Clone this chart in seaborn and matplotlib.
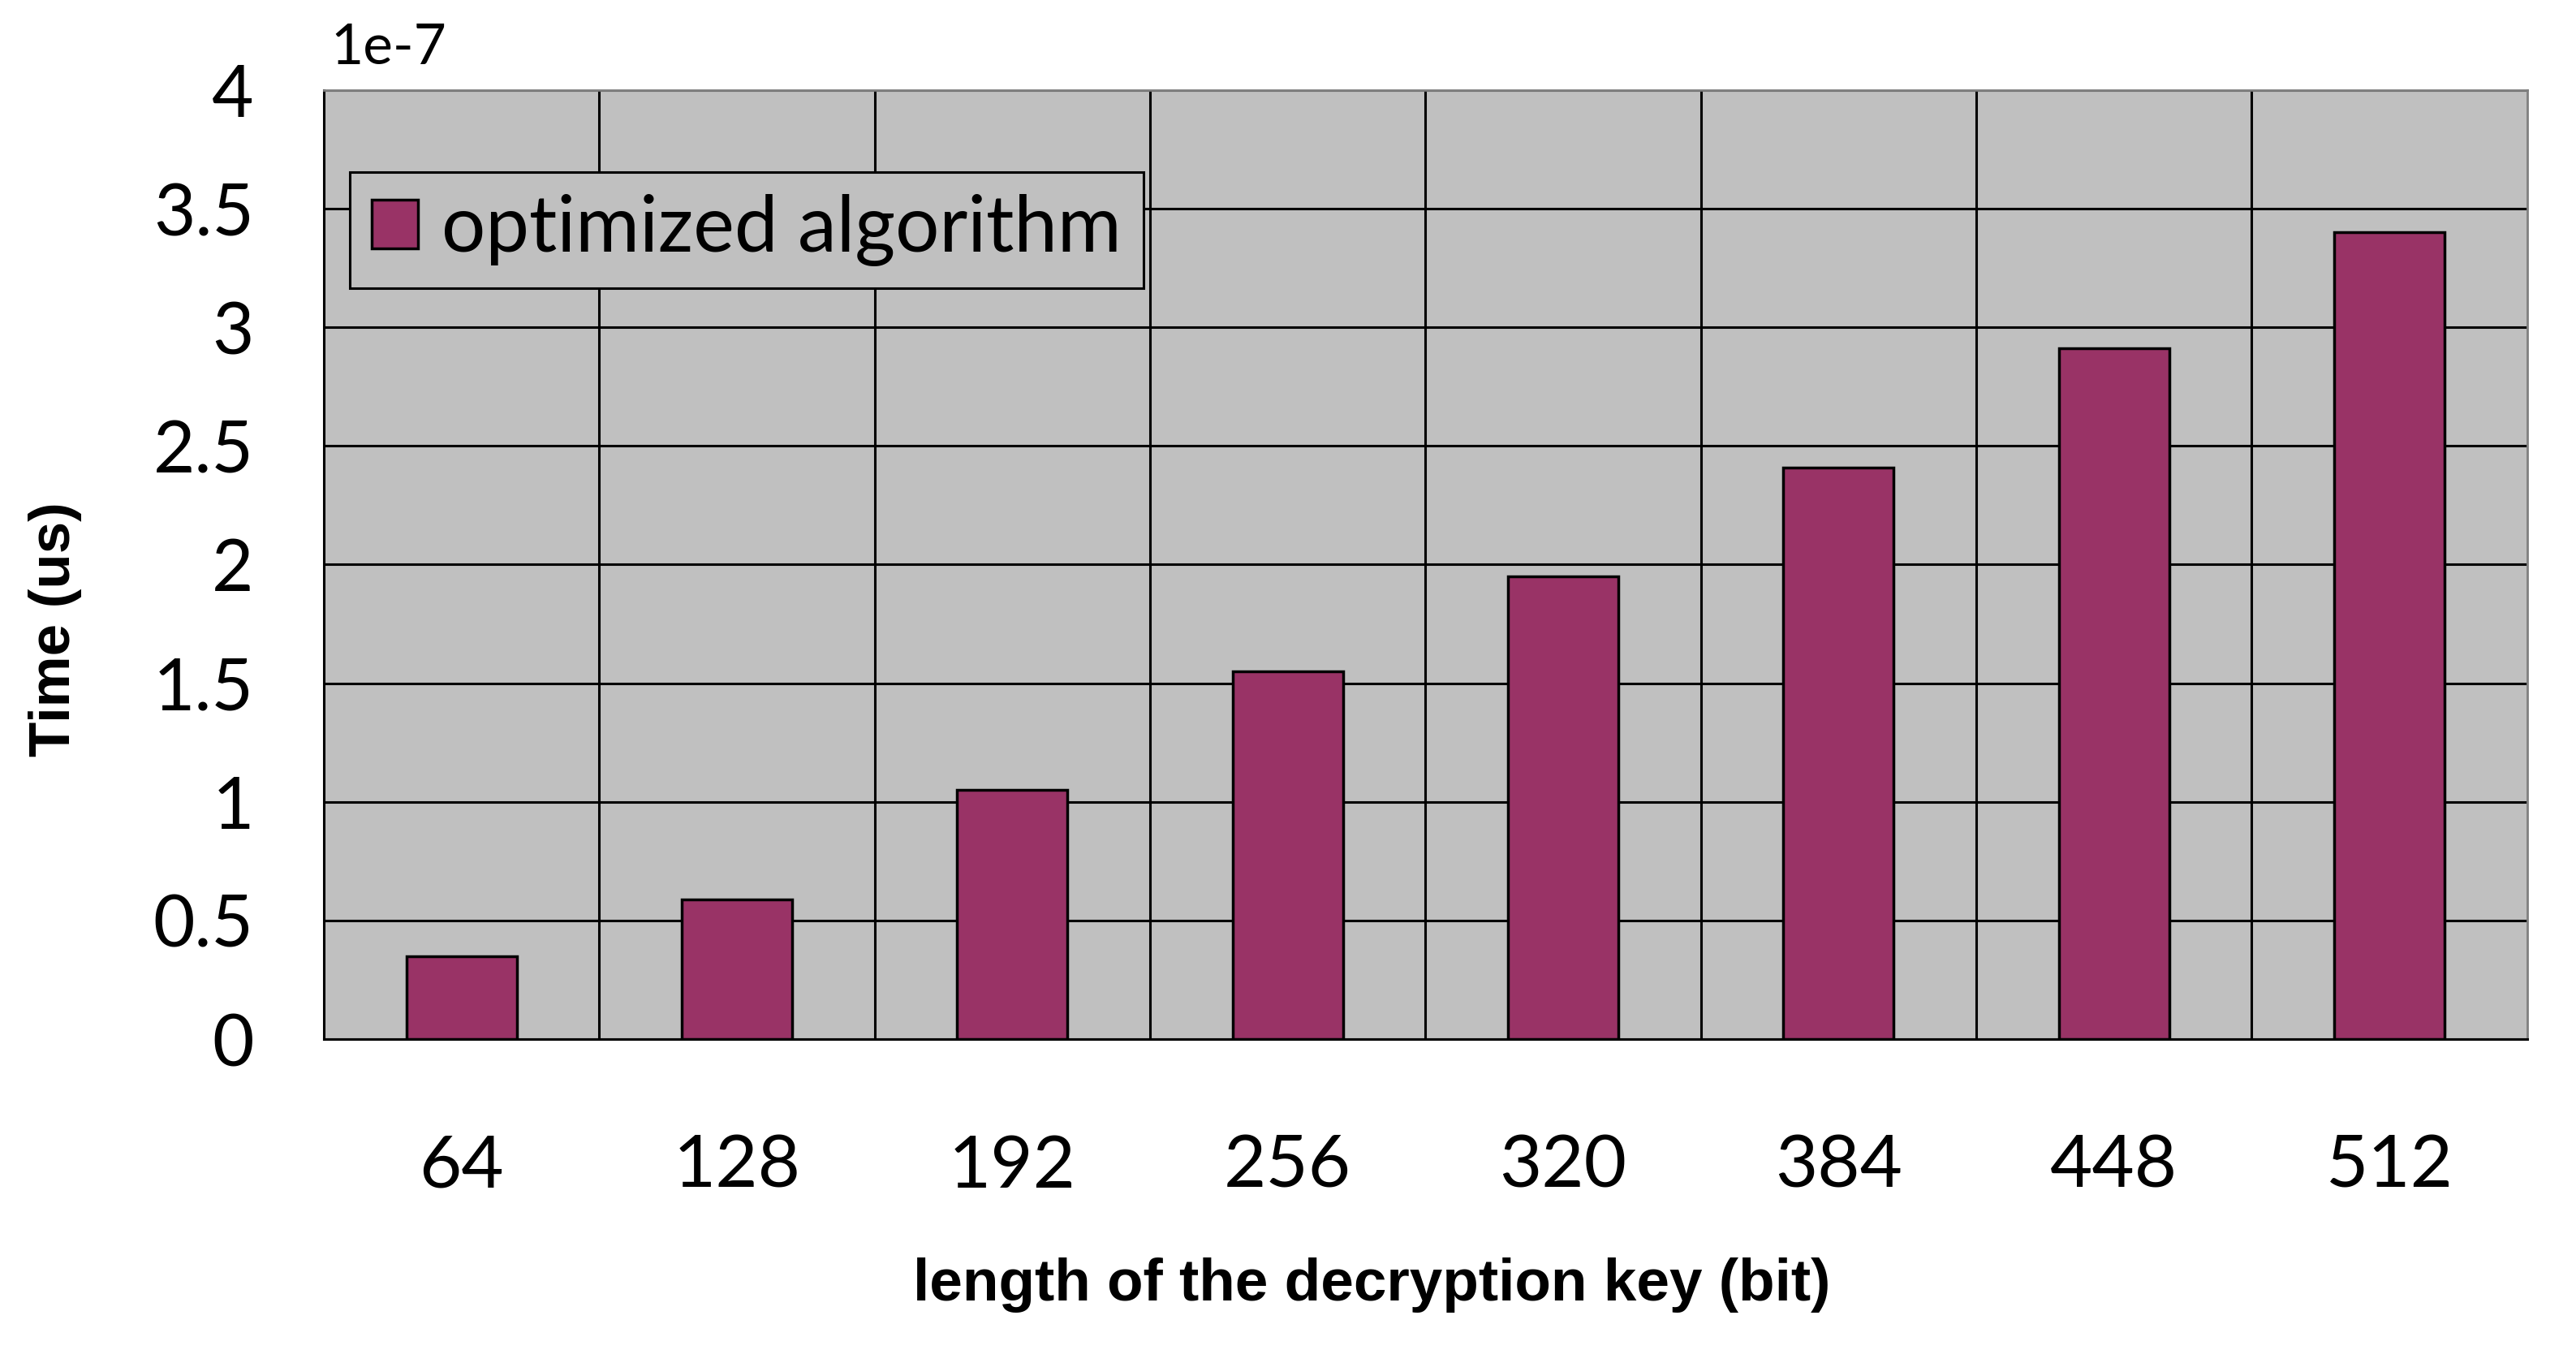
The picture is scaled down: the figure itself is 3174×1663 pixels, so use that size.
import numpy as np
import pandas as pd
import matplotlib
matplotlib.use('Agg')
import matplotlib.pyplot as plt
import seaborn as sns

# data (time in units of 1e-7 us)
key_lengths = ['64', '128', '192', '256', '320', '384', '448', '512']
times = [0.35, 0.59, 1.05, 1.55, 1.95, 2.41, 2.91, 3.40]
y_ticks = [0, 0.5, 1, 1.5, 2, 2.5, 3, 3.5, 4]
y_tick_labels = ['0', '0.5', '1', '1.5', '2', '2.5', '3', '3.5', '4']
series_name = 'optimized algorithm'

df = pd.DataFrame({'key': key_lengths, 'time': times})

sns.set_style('white')
plt.rcParams['axes.unicode_minus'] = False
plt.rcParams['font.family'] = ['Lato', 'DejaVu Sans']
plt.rcParams['text.color'] = 'black'
plt.rcParams['axes.labelcolor'] = 'black'
plt.rcParams['xtick.color'] = 'black'
plt.rcParams['ytick.color'] = 'black'

fig = plt.figure(figsize=(31.74, 16.63), dpi=100)
ax = fig.add_axes([0.1257, 0.2303, 0.8553, 0.7030])
ax.set_facecolor('#c0c0c0')

# draw bars
sns.barplot(data=df, x='key', y='time', color='#993366', width=0.4,
            edgecolor='black', linewidth=2.5, saturation=1,
            label=series_name, ax=ax, zorder=3)

ax.set_xlim(-0.5, len(key_lengths) - 0.5)
ax.set_ylim(0, 4)
ax.set_yticks(y_ticks)
ax.set_yticklabels(y_tick_labels)

# grid lines between categories and on y ticks
ax.set_xticks(np.arange(0.5, len(key_lengths) - 0.5), minor=True)
ax.grid(True, which='minor', axis='x', color='black', linewidth=2.2, zorder=1)
ax.grid(True, which='major', axis='y', color='black', linewidth=2.2, zorder=1)
ax.grid(False, which='major', axis='x')
ax.set_axisbelow(True)

ax.tick_params(axis='both', which='both', length=0)
ax.tick_params(axis='x', labelsize=65, pad=84, labelcolor='black')
ax.tick_params(axis='y', labelsize=64, pad=62, labelcolor='black')

for side in ['left', 'bottom']:
    ax.spines[side].set_color('black')
    ax.spines[side].set_linewidth(2.2)
for side in ['top', 'right']:
    ax.spines[side].set_color('#808080')
    ax.spines[side].set_linewidth(2)

# axis labels
ax.set_xlabel('length of the decryption key (bit)', fontsize=52.5,
              fontweight='bold', color='black',
              family=['Liberation Sans', 'DejaVu Sans'])
ax.xaxis.set_label_coords(0.4755, -0.259)
ax.xaxis.label.set_verticalalignment('center')
ax.set_ylabel('Time (us)', fontsize=51, fontweight='bold', color='black',
              family=['Liberation Sans', 'DejaVu Sans'])
ax.yaxis.set_label_coords(-0.122, 0.432)
ax.yaxis.label.set_verticalalignment('center')

# scale factor text
ax.text(0.003, 1.027, '1e-7', transform=ax.transAxes, fontsize=50,
        ha='left', va='baseline', color='black')

leg = ax.legend(loc='upper left', bbox_to_anchor=(0.0118, 0.9136),
                fontsize=69, frameon=True, fancybox=False,
                handlelength=0.6, handleheight=0.6, handletextpad=0.3,
                borderpad=0.28, borderaxespad=0)
leg.get_frame().set_facecolor('#c0c0c0')
leg.get_frame().set_edgecolor('black')
leg.get_frame().set_linewidth(2.2)
leg.get_frame().set_alpha(1)
for t in leg.get_texts():
    t.set_color('black')

fig.savefig('out.png', dpi=100)
